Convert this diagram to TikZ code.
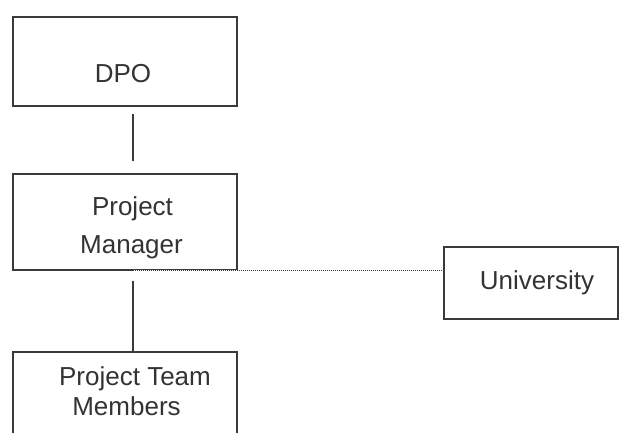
\documentclass[tikz,border=0pt]{standalone}
\usepackage{fontspec}
\setmainfont{Liberation Sans}
\definecolor{ink}{HTML}{3A3A3A}
\definecolor{txt}{HTML}{333333}
\begin{document}
\begin{tikzpicture}[x=1pt,y=-1pt,
  box/.style={draw=ink, line width=1.6pt, rectangle, inner sep=0pt, anchor=north west},
  lbl/.style={text=txt, font=\fontsize{26}{30}\selectfont, inner sep=0pt, anchor=base},
  conn/.style={draw=ink, line width=1.6pt},
  dotline/.style={draw=ink, line width=1.2pt, dash pattern=on 1pt off 1pt}]
\useasboundingbox[fill=white] (0,0) rectangle (622,432);
% boxes
\node[box, minimum width=224pt, minimum height=89pt] (dpo) at (12,16) {};
\node[box, minimum width=224pt, minimum height=96pt] (pm) at (12,173) {};
\node[box, minimum width=174pt, minimum height=72pt] (univ) at (443,246) {};
\node[box, minimum width=224pt, minimum height=110pt] (ptm) at (12,351) {};
% texts
\node[lbl] (tdpo) at (123,82) {DPO};
\node[lbl] (tpm1) at (132.5,215) {Project};
\node[lbl] (tpm2) at (131.5,253) {Manager};
\node[lbl] (tuni) at (537,289) {University};
\node[lbl] (tptm1) at (135,385) {Project Team};
\node[lbl] (tptm2) at (126.5,415) {Members};
% connectors
\draw[conn] ([shift={(8,7)}]dpo.south) -- ([shift={(8,-12)}]pm.north);
\draw[white, line width=2.2pt] ([xshift=9pt]pm.south) -- ([xshift=-1pt]pm.south east);
\draw[dotline] ([xshift=8pt]pm.south) -- (univ.west |- pm.south);
\draw[conn] ([shift={(8,10)}]pm.south) -- ([xshift=8]ptm.north);
\end{tikzpicture}
\end{document}
